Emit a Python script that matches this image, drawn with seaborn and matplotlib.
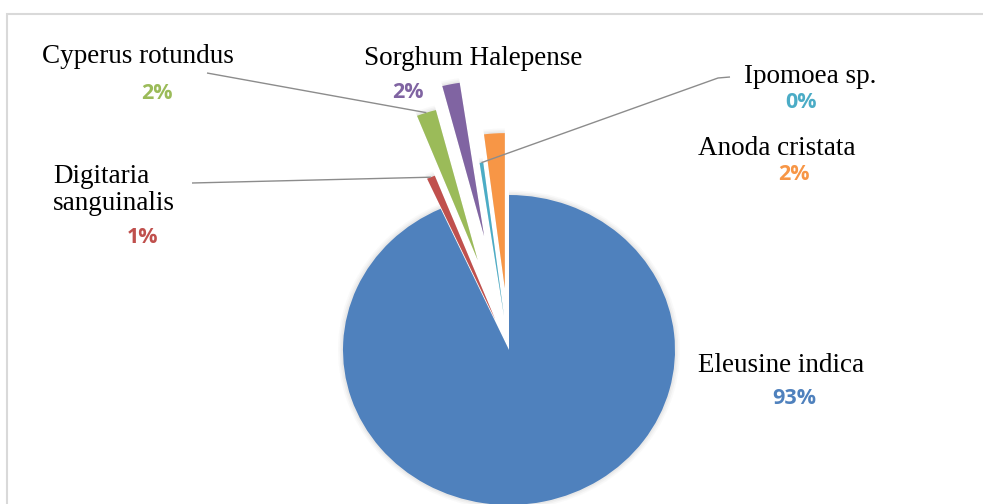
import numpy as np
import matplotlib
matplotlib.use("Agg")
import matplotlib.pyplot as plt
import seaborn as sns
from matplotlib.patches import Rectangle

# Weed species share (%)
species = ["Eleusine indica", "Digitaria\nsanguinalis", "Cyperus rotundus",
           "Sorghum Halepense", "Ipomoea sp.", "Anoda cristata"]
shares = [93.2, 0.8, 1.9, 1.7, 0.35, 2.0]
pct_labels = ["93%", "1%", "2%", "2%", "0%", "2%"]

sns.set_theme(style="white")
palette = sns.color_palette(["#4F81BD", "#C0504D", "#9BBB59", "#8064A2", "#4BACC6", "#F79646"])
explode = [0.0, 0.21, 0.61, 0.75, 0.22, 0.40]

W, H = 983, 504
CX, CY = 509, 350          # pie centre in pixels (from top-left)
RX, RY = 166, 155          # pie radii in pixels

fig = plt.figure(figsize=(W / 100, H / 100), dpi=100)
fig.patch.set_facecolor("white")
ax = fig.add_axes([0, 0, 1, 1])


def px(x, y):
    """pixel position (from top-left) -> data coordinates"""
    return (x - CX) / RX, (CY - y) / RY


# soft shadow under the wedges
for k, a in zip([0.03, 0.02, 0.01], [0.04, 0.06, 0.08]):
    ax.pie(shares, explode=explode, colors=["#7f7f7f"] * len(shares), startangle=90,
           counterclock=False, radius=1 + k,
           wedgeprops=dict(linewidth=0, alpha=a))

wedges, _ = ax.pie(shares, explode=explode, colors=palette, startangle=90,
                   counterclock=False, radius=1.0, wedgeprops=dict(linewidth=0))
ax.set_aspect("auto")
ax.set_xlim(-CX / RX, (W - CX) / RX)
ax.set_ylim(-(H - CY) / RY, CY / RY)
ax.axis("off")


def arc_mid(w):
    ang = np.deg2rad((w.theta1 + w.theta2) / 2)
    cx, cy = w.center
    return cx + w.r * np.cos(ang), cy + w.r * np.sin(ang)


name_font = dict(family="Liberation Serif", fontsize=19.5, color="black")
pct_font = dict(family="Open Sans", fontsize=15.5, fontweight="bold")

# name label centres and percentage label centres (pixels)
name_pos = [(781, 366), (53, 190), (138, 56), (473, 58), (810, 76), (777, 148)]
pct_pos = [(794, 398), (143, 237), (157, 93), (408, 92), (801, 102), (794, 174)]

for i, (name, pct) in enumerate(zip(species, pct_labels)):
    nx, ny = px(*name_pos[i])
    if "\n" in name:
        ax.text(nx, ny, name, ha="left", va="center", linespacing=1.12, **name_font)
    else:
        ax.text(nx, ny, name, ha="center", va="center", **name_font)
    qx, qy = px(*pct_pos[i])
    ax.text(qx, qy, pct, ha="center", va="center", color=palette[i], **pct_font)

# leader lines
line_kw = dict(color="#8c8c8c", linewidth=1.0, solid_capstyle="butt")
leaders = {1: [(192, 183)], 2: [(207, 73)], 4: [(730, 77), (718, 78)]}
for i, pts in leaders.items():
    xs = [px(*p)[0] for p in pts]
    ys = [px(*p)[1] for p in pts]
    mx, my = arc_mid(wedges[i])
    xs.append(mx)
    ys.append(my)
    ax.plot(xs, ys, **line_kw)

# chart area border
fig.patches.append(Rectangle((7 / W, -0.1), 1.2, 1 - 14 / H + 0.1,
                             transform=fig.transFigure, fill=False,
                             edgecolor="#d9d9d9", linewidth=1.5))

fig.savefig("out.png", dpi=100, facecolor="white")
